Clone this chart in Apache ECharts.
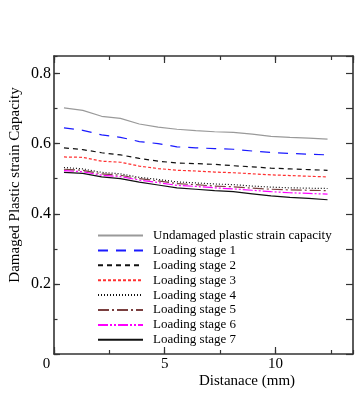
<!DOCTYPE html>
<html>
<head>
<meta charset="utf-8">
<script src="https://cdn.jsdelivr.net/npm/echarts@6/dist/echarts.min.js"></script>
<style>
html,body{margin:0;padding:0;background:#fff;}
#c{width:364px;height:394px;}
</style>
</head>
<body>
<div id="c"></div>
<script>
const distance = [0.45, 1.3, 2.15, 3.0, 3.85, 4.7, 5.55, 6.4, 7.25, 8.1, 8.95, 9.8, 10.65, 11.5, 12.35];
const undamaged = [0.702, 0.695, 0.678, 0.672, 0.656, 0.647, 0.641, 0.637, 0.634, 0.632, 0.627, 0.621, 0.618, 0.616, 0.613];
const stage1 = [0.645, 0.638, 0.625, 0.618, 0.606, 0.600, 0.591, 0.588, 0.586, 0.584, 0.579, 0.575, 0.572, 0.570, 0.568];
const stage2 = [0.588, 0.583, 0.574, 0.568, 0.558, 0.550, 0.545, 0.543, 0.541, 0.537, 0.534, 0.530, 0.528, 0.526, 0.524];
const stage3 = [0.562, 0.561, 0.550, 0.547, 0.536, 0.529, 0.524, 0.522, 0.519, 0.517, 0.514, 0.511, 0.509, 0.507, 0.505];
const stage4 = [0.532, 0.528, 0.518, 0.514, 0.504, 0.498, 0.491, 0.488, 0.485, 0.483, 0.479, 0.476, 0.474, 0.473, 0.472];
const stage5 = [0.527, 0.524, 0.514, 0.510, 0.500, 0.494, 0.486, 0.483, 0.479, 0.477, 0.473, 0.470, 0.468, 0.467, 0.466];
const stage6 = [0.523, 0.520, 0.510, 0.506, 0.496, 0.489, 0.481, 0.478, 0.474, 0.471, 0.467, 0.463, 0.460, 0.458, 0.456];
const stage7 = [0.518, 0.515, 0.505, 0.500, 0.490, 0.482, 0.474, 0.470, 0.466, 0.463, 0.457, 0.451, 0.447, 0.444, 0.440];
const seriesNames = ['Undamaged plastic strain capacity', 'Loading stage 1', 'Loading stage 2', 'Loading stage 3',
  'Loading stage 4', 'Loading stage 5', 'Loading stage 6', 'Loading stage 7'];
const xTickLabels = ['0', '5', '10'];
const yTickLabels = ['0.2', '0.4', '0.6', '0.8'];
const xTitle = 'Distanace (mm)';
const yTitle = 'Damaged Plastic strain Capacity';

const allValues = [undamaged, stage1, stage2, stage3, stage4, stage5, stage6, stage7];
const styles = [
  {color: '#9a9a9a', type: 'solid', width: 1.2},
  {color: '#1a1aff', type: [10, 8], width: 1.2},
  {color: '#111111', type: [5, 4], width: 1.2},
  {color: '#ff3030', type: [3, 2], width: 1.2},
  {color: '#111111', type: [1, 2], width: 1.2},
  {color: '#7a3f3f', type: [11, 3, 2, 3], width: 1.2},
  {color: '#ff00ff', type: [10, 2, 2, 2, 2, 2], width: 1.2},
  {color: '#111111', type: 'solid', width: 1.2}
];

const FONT = '"Liberation Serif", "DejaVu Serif", serif';
const axisColor = '#333';
const XMIN = 0, XMAX = 13.5, YMIN = 0, YMAX = 0.85;

function fmtX(v) {
  const s = String(Math.round(v * 100) / 100);
  if (!xTickLabels.includes(s)) return '';
  return s === '0' ? '{z|0}' : s;
}
function fmtY(v) {
  const s = (Math.round(v * 100) / 100).toFixed(1);
  return yTickLabels.includes(s) ? s : '';
}

const chart = echarts.init(document.getElementById('c'), null, {renderer: 'canvas'});
const baseX = {type: 'value', min: XMIN, max: XMAX, splitLine: {show: false}};
const baseY = {type: 'value', min: YMIN, max: YMAX, splitLine: {show: false}};
function line(show) {
  return {show: show, onZero: false, lineStyle: {color: axisColor, width: 1.6}};
}
function tick(len) {
  return {show: true, inside: true, length: len, lineStyle: {color: axisColor, width: 1.2}};
}

chart.setOption({
  animation: false,
  backgroundColor: '#fff',
  grid: {left: 54, right: 11, top: 56, bottom: 40, containLabel: false},
  xAxis: [
    Object.assign({}, baseX, {position: 'bottom', interval: 5, axisLine: line(true), axisTick: tick(7),
      axisLabel: {show: true, margin: 3, formatter: fmtX, color: '#000', fontFamily: FONT, fontSize: 15,
        showMaxLabel: false,
        rich: {z: {fontFamily: FONT, fontSize: 15, color: '#000', padding: [0, 15, 0, 0]}}}}),
    Object.assign({}, baseX, {position: 'bottom', interval: 2.5, axisLine: line(false), axisTick: tick(4),
      axisLabel: {show: false}}),
    Object.assign({}, baseX, {position: 'top', interval: 5, axisLine: line(true), axisTick: tick(7),
      axisLabel: {show: false}}),
    Object.assign({}, baseX, {position: 'top', interval: 2.5, axisLine: line(false), axisTick: tick(4),
      axisLabel: {show: false}})
  ],
  yAxis: [
    Object.assign({}, baseY, {position: 'left', interval: 0.2, axisLine: line(true), axisTick: tick(6),
      axisLabel: {show: true, margin: 3, formatter: fmtY, color: '#000', fontFamily: FONT, fontSize: 16,
        showMaxLabel: false}}),
    Object.assign({}, baseY, {position: 'left', interval: 0.1, axisLine: line(false), axisTick: tick(3.5),
      axisLabel: {show: false}}),
    Object.assign({}, baseY, {position: 'right', interval: 0.1, axisLine: line(true), axisTick: tick(7),
      axisLabel: {show: false}})
  ],
  legend: {
    orient: 'vertical', left: 92, top: 224,
    itemWidth: 45, itemHeight: 10, itemGap: 1.9,
    itemStyle: {opacity: 0, borderWidth: 0, color: 'rgba(0,0,0,0)'},
    textStyle: {fontFamily: FONT, fontSize: 13, color: '#000', padding: [0, 0, 0, 5]},
    data: seriesNames
  },
  graphic: [
    {type: 'text', x: 247, y: 381,
      style: {text: xTitle, font: '15px ' + FONT, fill: '#000', textAlign: 'center', textVerticalAlign: 'middle'}},
    {type: 'text', rotation: Math.PI / 2, x: 15, y: 185,
      style: {text: yTitle, font: '15px ' + FONT, fill: '#000', textAlign: 'center', textVerticalAlign: 'middle'}}
  ],
  series: allValues.map((vals, i) => ({
    name: seriesNames[i],
    type: 'line',
    xAxisIndex: 0, yAxisIndex: 0,
    symbol: 'none',
    smooth: false,
    data: distance.map((d, j) => [d, vals[j]]),
    lineStyle: styles[i],
    itemStyle: {color: styles[i].color},
    z: 10 - i
  }))
});
</script>
</body>
</html>
